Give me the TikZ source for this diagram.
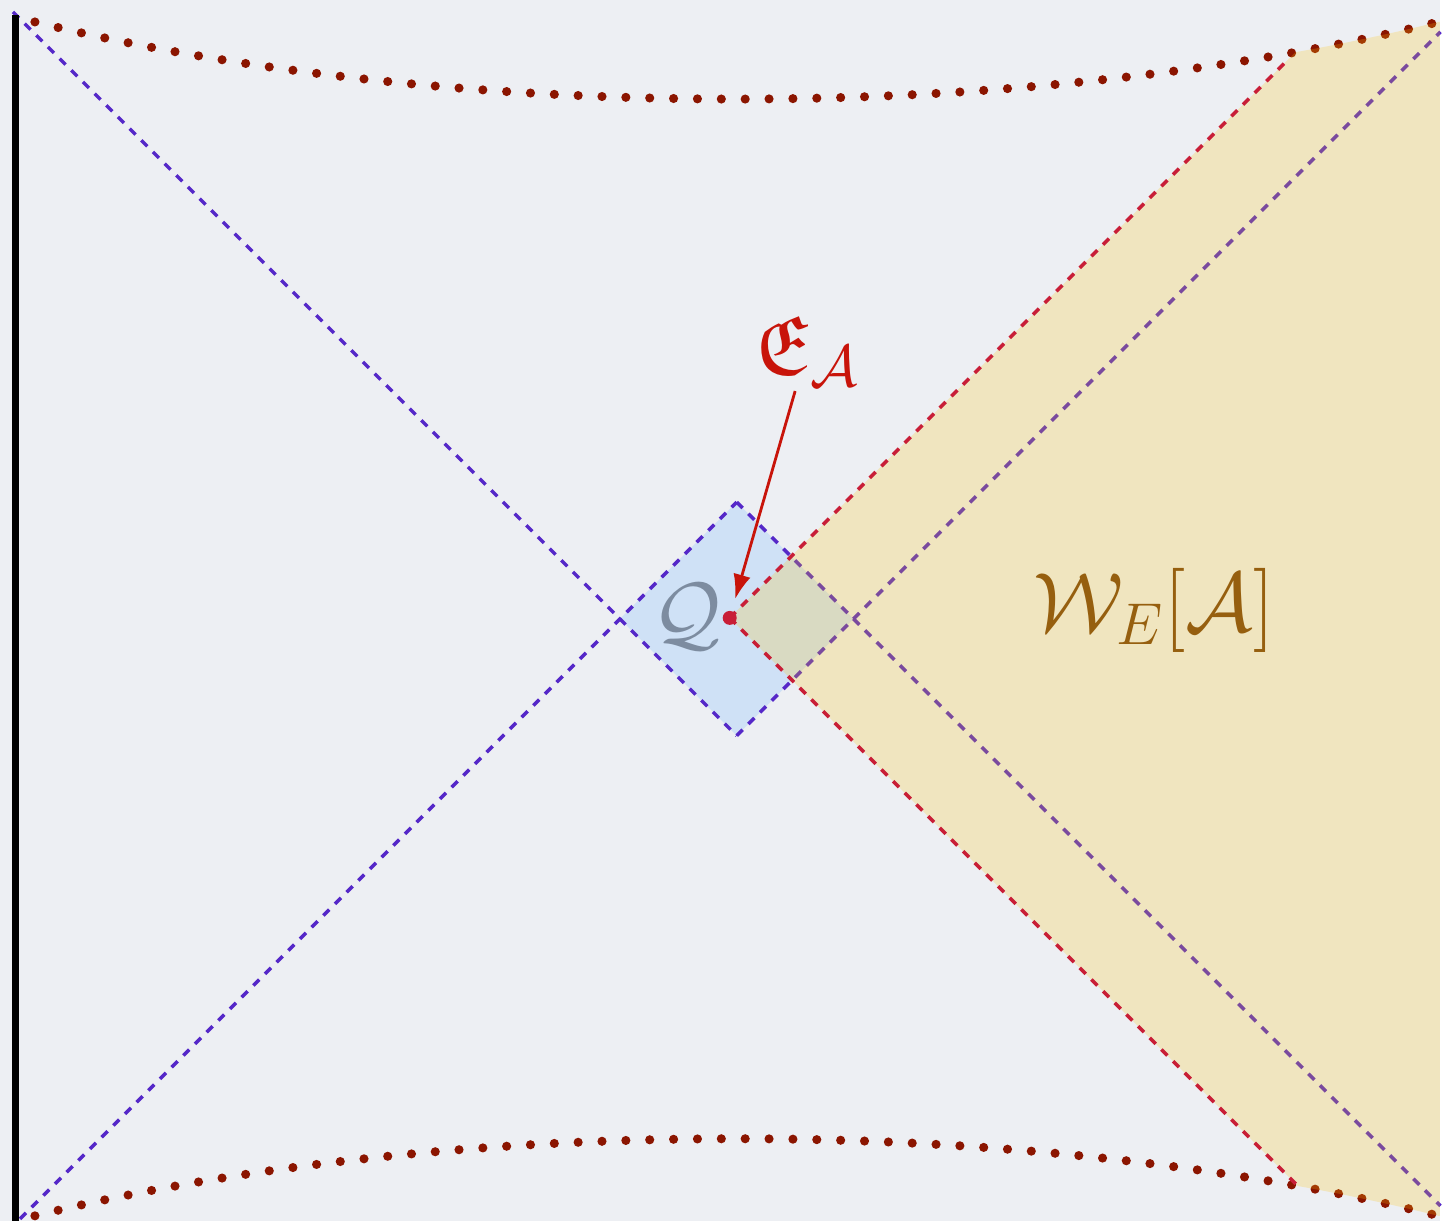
\RequirePackage{fix-cm}
\documentclass[tikz,border=0pt]{standalone}
\usepackage{amssymb}
\usetikzlibrary{arrows.meta}

\definecolor{bgcol}{RGB}{237,239,243}
\definecolor{conecol}{RGB}{85,40,200}
\definecolor{wedgecol}{RGB}{200,30,55}
\definecolor{dotcol}{RGB}{139,21,0}
\definecolor{diamondcol}{RGB}{207,225,246}
\definecolor{wedgefill}{RGB}{255,195,10}
\definecolor{labelred}{RGB}{200,20,10}
\definecolor{labelbrown}{RGB}{150,95,15}
\definecolor{labelgray}{RGB}{125,140,160}

\begin{document}
\begin{tikzpicture}[x=0.01cm, y=-0.01cm, >={Latex[length=7pt, width=5pt]},
    cone/.style={conecol, line width=1pt, dash pattern=on 2.4pt off 2.3pt},
    wedge/.style={wedgecol, line width=1pt, dash pattern=on 2.4pt off 2.3pt},
    sing/.style={dotcol, line width=2.6pt, line cap=round, dash pattern=on 0pt off 6.8pt},
    bigmath/.style={font=\fontsize{24}{28}\selectfont, inner sep=1pt}]

    % --- Sfondo ---
    \fill[bgcol] (0,0) rectangle (1443,1223);

    % --- Punti del diagramma ---
    \coordinate (tl) at (13,12);
    \coordinate (bl) at (20,1221);
    \coordinate (tr) at (1443,32);
    \coordinate (br) at (1443,1208);
    \coordinate (qtop) at (738,503);
    \coordinate (qright) at (855,620);
    \coordinate (qbot) at (738,737);
    \coordinate (qleft) at (621,620);
    \coordinate (xa) at (731,619);
    \coordinate (wtop) at (1289,61);
    \coordinate (wbot) at (1300,1188);

    % --- Dominio Q ---
    \fill[diamondcol] (qtop) -- (qright) -- (qbot) -- (qleft) -- cycle;

    % --- Coni di luce ---
    \draw[cone] (tl) -- (qbot);
    \draw[cone] (bl) -- (qtop);
    \draw[cone] (qtop) -- (br);
    \draw[cone] (qbot) -- (tr);

    % --- Bordo e singolarita' ---
    \draw[black, line width=2.2pt] (15.5,15) -- (15.5,1223);
    \draw[sing] (35,22) .. controls (452,125) and (1024,125) .. (1441,22);
    \draw[sing] (35,1218) .. controls (452,1115) and (1024,1115) .. (1441,1218);

    % --- Cuneo W_E[A] ---
    \begin{scope}
        \clip (35,22) .. controls (452,125) and (1024,125) .. (1441,22) -- (1443,22)
            -- (1443,1218) -- (1441,1218) .. controls (1024,1115) and (452,1115) .. (35,1218) -- cycle;
        \fill[wedgefill, fill opacity=0.22] (xa) -- (1350,0) -- (1443,0) -- (1443,1223) -- (1335,1223) -- cycle;
    \end{scope}
    \draw[wedge] (xa) -- (wtop);
    \draw[wedge] (xa) -- (wbot);

    % --- Etichette ---
    \node[circle, fill=wedgecol, inner sep=0pt, minimum size=0.14cm] (xadot) at (xa) {};
    \node[bigmath, text=labelgray] (qlabel) at (688,618) {$\mathcal{Q}$};
    \node[bigmath, text=labelbrown] (wlabel) at (1156,612) {$\mathcal{W}_E[\mathcal{A}]$};
    \node[bigmath, text=labelred] (ealabel) at (808,352) {$\mathfrak{E}_{\mathcal{A}}$};
    \draw[->, labelred, line width=0.8pt, shorten >=0.12cm] (ealabel) -- (xadot);

\end{tikzpicture}
\end{document}
